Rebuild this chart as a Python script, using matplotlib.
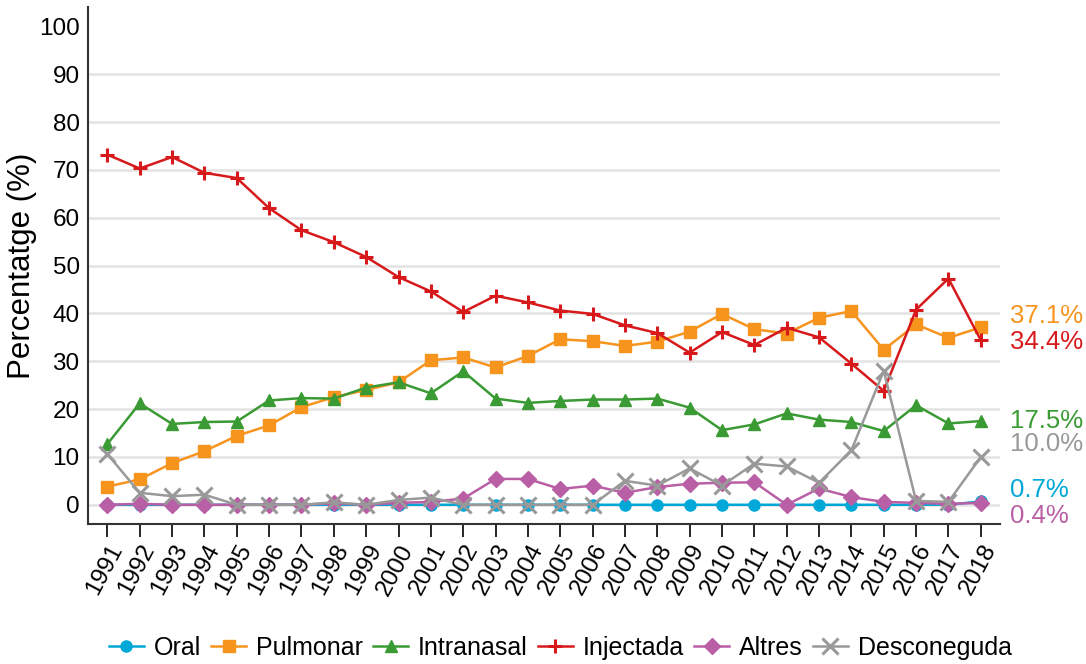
import numpy as np
import matplotlib
matplotlib.use('Agg')
from matplotlib import pyplot as plt
import matplotlib.transforms as mtransforms

plt.rcParams['font.family'] = ['Liberation Sans', 'DejaVu Sans']

years = list(range(1991, 2019))

oral = [0, 0, 0, 0, 0, 0, 0, 0, 0, 0, 0, 0, 0, 0, 0, 0, 0, 0, 0, 0,
        0, 0, 0, 0, 0, 0, 0, 0.7]
pulmonar = [3.8, 5.3, 8.7, 11.2, 14.4, 16.6, 20.4, 22.5, 24.0, 25.6,
            30.2, 30.8, 28.7, 31.1, 34.6, 34.2, 33.2, 34.1, 36.2, 39.9,
            36.7, 35.8, 39.1, 40.5, 32.4, 37.7, 34.9, 37.1]
intranasal = [12.7, 21.2, 16.9, 17.3, 17.4, 21.8, 22.3, 22.2, 24.5, 25.6,
              23.3, 27.9, 22.2, 21.3, 21.7, 22.0, 22.0, 22.2, 20.3, 15.6,
              16.8, 19.1, 17.8, 17.3, 15.4, 20.8, 17.0, 17.5]
injectada = [73.2, 70.3, 72.7, 69.4, 68.3, 62.0, 57.4, 54.9, 51.8, 47.6,
             44.6, 40.3, 43.7, 42.3, 40.6, 39.9, 37.5, 35.9, 31.8, 36.1,
             33.4, 37.0, 35.0, 29.5, 23.8, 40.8, 47.3, 34.4]
altres = [0, 0.2, 0, 0, 0, 0, 0, 0.3, 0, 0.4,
          0.6, 1.3, 5.4, 5.4, 3.3, 4.0, 2.5, 3.7, 4.4, 4.6,
          4.7, 0, 3.4, 1.6, 0.6, 0.4, 0.2, 0.4]
desconeguda = [10.6, 2.5, 1.8, 2.1, 0, 0, 0, 0.5, 0, 1.0,
               1.5, 0, 0, 0, 0, 0, 5.0, 4.0, 7.6, 4.0,
               8.6, 8.0, 4.6, 11.4, 28.0, 0.8, 0.6, 10.0]

names = ['Oral', 'Pulmonar', 'Intranasal', 'Injectada', 'Altres', 'Desconeguda']
series = [oral, pulmonar, intranasal, injectada, altres, desconeguda]
colors = ['#00A8D8', '#F7941D', '#3A9A33', '#D7191C', '#B95FA6', '#999999']
markers = ['o', 's', '^', '+', 'D', 'x']
msizes = [8, 9, 9, 10, 8.5, 11]
# end labels are nudged apart so they don't overlap (offset in data units)
label_shift = [2.4, 2.4, 0.1, -0.3, -2.7, 2.6]

fig = plt.figure(figsize=(10.86, 6.64), dpi=100)
ax = fig.add_axes([0.081, 0.211, 0.84, 0.778])

for name, vals, c, m, ms in zip(names, series, colors, markers, msizes):
    mew = 2.2 if m in ('+', 'x') else 1
    ax.plot(years, vals, color=c, marker=m, markersize=ms, lw=1.8,
            markeredgewidth=mew, label=name)

trans = mtransforms.blended_transform_factory(ax.transAxes, ax.transData)
for vals, c, sh in zip(series, colors, label_shift):
    ax.annotate('%.1f%%' % vals[-1], xy=(1, vals[-1] + sh), xycoords=trans,
                xytext=(7, 0), textcoords='offset points', color=c,
                fontsize=18.5, ha='left', va='center', annotation_clip=False)

ax.set_xlim(1990.4, 2018.6)
ax.set_ylim(-4, 104)
ax.set_yticks(range(0, 101, 10))
ax.set_xticks(years)
ax.set_xticklabels([str(y) for y in years], rotation=62, ha='right',
                   rotation_mode='anchor', fontsize=17.5)
ax.tick_params(axis='y', length=0, labelsize=17.5, pad=6)
ax.tick_params(axis='x', length=9, width=1.2, pad=3)
ax.set_ylabel('Percentatge (%)', fontsize=22.5, labelpad=1)

for y in range(0, 91, 10):
    ax.axhline(y, color='#e3e3e3', lw=1.8, zorder=0)

for s in ['top', 'right']:
    ax.spines[s].set_visible(False)
ax.spines['left'].set_linewidth(1.5)
ax.spines['bottom'].set_linewidth(1.5)
ax.spines['left'].set_color('#333333')
ax.spines['bottom'].set_color('#333333')

fig.legend(loc='center', bbox_to_anchor=(0.516, 0.024), ncol=6, frameon=False,
           fontsize=18, handlelength=1.4, handletextpad=0.4, columnspacing=0.4)

fig.savefig('out.png', dpi=100)
